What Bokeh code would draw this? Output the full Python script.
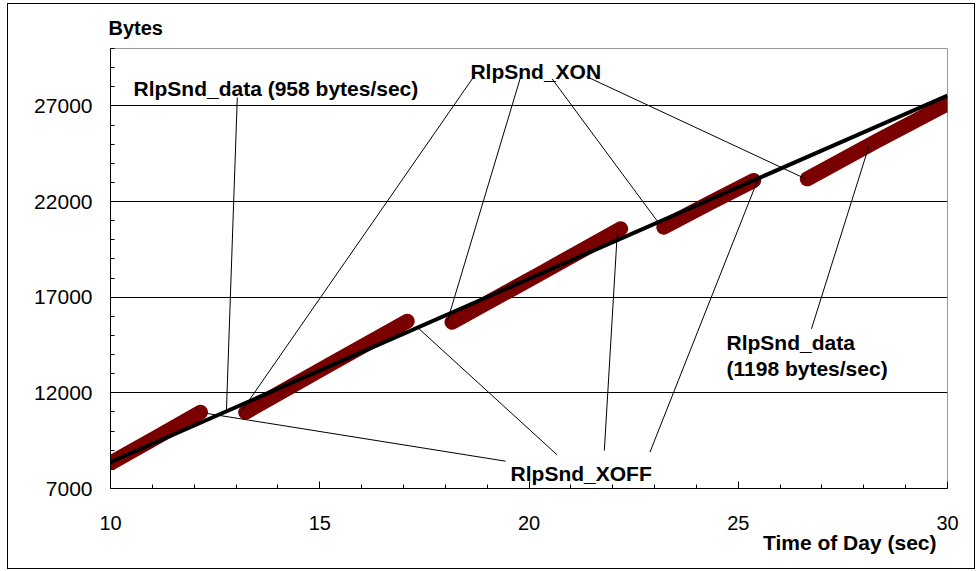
from bokeh.plotting import figure
from bokeh.models import FixedTicker, Label, Range1d, Title
from bokeh.embed import file_html
from bokeh.resources import INLINE

# RlpSnd_data segments: time of day (sec) vs bytes
seg_t = [
    [10.04, 11.1, 12.15],
    [13.23, 15.2, 17.09],
    [18.16, 20.2, 22.19],
    [23.22, 24.3, 25.37],
    [26.65, 28.3, 30.0],
]
seg_b = [
    [8375, 9680, 10989],
    [10989, 13430, 15745],
    [15693, 18150, 20576],
    [20659, 21900, 23100],
    [23189, 25150, 27110],
]

# Fitted line (958 bytes/sec)
fit_t = [10, 30]
fit_b = [8380, 27540]

# Leader lines (label anchor -> point)
lead_x0 = [13.03, 18.70, 19.81, 20.55, 21.37, 12.27, 17.33, 22.11, 25.46, 28.12]
lead_y0 = [27439, 28589, 28589, 28417, 28537, 10936, 15432, 20382, 23100, 24878]
lead_x1 = [12.77, 13.11, 18.03, 23.09, 26.61, 19.44, 20.67, 21.80, 22.89, 26.75]
lead_y1 = [11077, 10973, 15609, 20905, 23189, 8427, 8762, 8986, 8898, 15348]

y_major = [7000, 12000, 17000, 22000, 27000]
y_minor = [8000, 9000, 10000, 11000, 13000, 14000, 15000, 16000, 18000, 19000,
           20000, 21000, 23000, 24000, 25000, 26000, 28000, 29000, 30000]
x_major = [10, 15, 20, 25, 30]
x_minor = [11, 12, 13, 14, 16, 17, 18, 19, 21, 22, 23, 24, 26, 27, 28, 29]

FONT = "Liberation Sans"

p = figure(width=968, height=566, output_backend="svg", toolbar_location=None,
           x_range=Range1d(10, 30), y_range=Range1d(7000, 30000),
           min_border_left=102, min_border_right=29, min_border_top=44,
           min_border_bottom=82)
p.styles = {"border": "1px solid black", "margin-left": "7px", "margin-top": "3px"}
p.outline_line_color = "#999999"
p.outline_line_width = 1
p.background_fill_color = "white"
p.border_fill_color = "white"

p.xgrid.visible = False
p.ygrid.ticker = FixedTicker(ticks=y_major)
p.ygrid.grid_line_color = "black"
p.ygrid.grid_line_width = 1

for ax, maj, mnr in ((p.xaxis[0], x_major, x_minor), (p.yaxis[0], y_major, y_minor)):
    ax.ticker = FixedTicker(ticks=maj, minor_ticks=mnr)
    ax.axis_line_color = "black"
    ax.major_tick_in = 7
    ax.major_tick_out = 0
    ax.minor_tick_in = 4
    ax.minor_tick_out = 0
    ax.major_tick_line_color = "black"
    ax.minor_tick_line_color = "black"
    ax.major_label_text_font = FONT
    ax.major_label_text_color = "black"
p.xaxis.major_label_text_font_size = "20px"
p.yaxis.major_label_text_font_size = "21px"
p.xaxis.major_label_standoff = 27
p.yaxis.major_label_standoff = 18

p.multi_line(xs=seg_t, ys=seg_b, line_color="#7a0000", line_width=15,
             line_cap="round", line_join="round")
p.line(fit_t, fit_b, line_color="black", line_width=4)
p.segment(x0=lead_x0, y0=lead_y0, x1=lead_x1, y1=lead_y1,
          line_color="black", line_width=1)

p.add_layout(Title(text="Bytes", align="left", offset=-2, standoff=19,
                   text_font=FONT, text_font_size="20px", text_font_style="bold",
                   text_color="black"), "above")
p.add_layout(Title(text="Time of Day (sec)", align="right", offset=11, standoff=-8,
                   text_font=FONT, text_font_size="21px", text_font_style="bold",
                   text_color="black"), "below")

labels = [
    ("RlpSnd_data (958 bytes/sec)", 10.55, 27894),
    ("RlpSnd_XON", 18.60, 28814),
    ("RlpSnd_XOFF", 19.56, 7768),
    ("RlpSnd_data", 24.72, 14648),
    ("(1198 bytes/sec)", 24.72, 13273),
]
for txt, lx, ly in labels:
    p.add_layout(Label(x=lx, y=ly, text=txt, text_font=FONT,
                       text_font_size="21px", text_font_style="bold",
                       text_color="black", text_baseline="alphabetic",
                       text_align="left"))

open("out.html", "w").write(file_html(p, INLINE))
